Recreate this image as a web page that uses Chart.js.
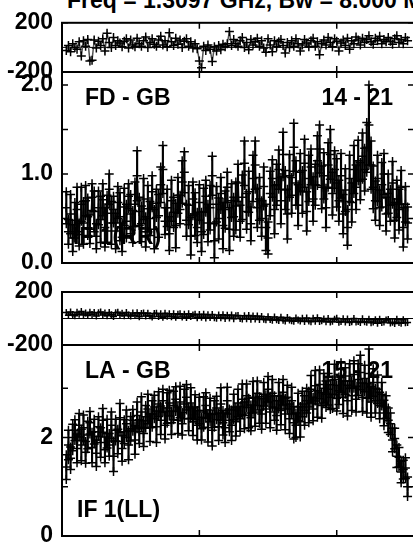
<!DOCTYPE html>
<html>
<head>
<meta charset="utf-8">
<script src="https://cdn.jsdelivr.net/npm/chart.js@4.4.1/dist/chart.umd.min.js"></script>
<style>
  html, body { margin: 0; padding: 0; background: #fff; overflow: hidden; width: 413px; height: 547px; }
  canvas { position: absolute; left: 0; top: 0; }
  #title { position: absolute; left: 67px; top: -13px; font: bold 23px "Liberation Sans", Arial, sans-serif; white-space: nowrap; color: #000; }
</style>
</head>
<body>
<div id="title">Freq = 1.3097 GHz, Bw = 8.000 MHz</div>
<canvas id="phaseRR" width="430" height="560"></canvas>
<canvas id="ampRR" width="430" height="560"></canvas>
<canvas id="phaseLL" width="430" height="560"></canvas>
<canvas id="ampLL" width="430" height="560"></canvas>
<script>
// channel axis
const channels = Array.from({ length: 160 }, (_, i) => i + 2);
const xTicks = [0, 64, 128];

// FD - GB, IF 1 (RR)
const phaseRR = [
  -25, 15, -35, 30, 0, -15, 45, -70, 55, 10,
  65, -110, -105, 60, -5, 50, 15, 70, -30, 115,
  40, 0, 80, 15, 55, 35, 5, 50, 70, -5,
  60, 20, 5, 75, 30, 10, 55, 85, 0, 40,
  70, 25, 10, 60, 90, 20, 55, 5, 120, 45,
  15, 75, 25, 60, 0, 50, 70, 10, 45, -5,
  30, -10, -110, -165, 10, -25, 20, -15, -115, 5,
  -30, 15, -20, 25, 5, 30, 130, 15, 65, 30,
  10, 55, 80, 0, 40, -20, 65, 20, 45, 75,
  10, 55, -5, -40, 70, 20, -35, 55, 5, 45,
  65, 15, -45, 40, 0, 55, 10, 70, 30, -30,
  20, 65, 35, 5, 55, 75, 10, 45, -60, 30,
  60, 20, 80, 40, 5, 70, 50, -30, 35, 60,
  15, 75, -15, 55, 30, 85, 60, 20, 75, 40,
  65, 95, 45, 25, 75, 55, 90, 30, 65, 45,
  80, 50, 25, 70, 95, 40, 65, 30, 80, 55
];
const ampRR = [
  0.62, 0.35, 0.55, 0.28, 0.48, 0.60, 0.32, 0.66, 0.45, 0.70,
  0.52, 0.38, 0.74, 0.58, 0.30, 0.62, 0.49, 0.71, 0.40, 0.56,
  0.83, 0.45, 0.60, 0.36, 0.68, 0.52, 0.29, 0.63, 0.47, 0.75,
  0.55, 0.41, 0.66, 0.98, 0.58, 0.44, 0.72, 0.35, 0.61, 0.50,
  0.80, 0.38, 0.67, 0.53, 0.88, 1.05, 0.47, 0.62, 0.33, 0.70,
  0.57, 0.42, 0.76, 0.60, 0.91, 1.02, 0.48, 0.65, 0.30, 0.72,
  0.55, 0.40, 0.68, 0.35, 0.58, 0.75, 0.45, 0.62, 0.98, 0.25,
  0.66, 0.50, 0.78, 0.42, 0.60, 0.85, 0.38, 0.70, 0.52, 0.64,
  0.90, 0.47, 0.74, 1.12, 0.58, 0.80, 0.44, 0.95, 1.10, 0.62,
  0.72, 0.50, 0.86, 0.40, 0.28, 0.78, 0.95, 0.60, 0.88, 1.05,
  0.70, 1.22, 0.82, 0.55, 0.98, 0.76, 1.30, 0.90, 0.65, 1.02,
  0.80, 1.12, 0.58, 0.95, 1.08, 0.72, 0.88, 1.15, 1.28, 0.85,
  0.98, 0.62, 1.10, 1.22, 0.78, 1.05, 0.90, 0.70, 0.98, 0.55,
  0.82, 0.40, 0.95, 0.68, 1.05, 0.85, 1.15, 0.92, 1.20, 1.05,
  1.30, 1.55, 1.10, 0.85, 0.70, 0.95, 0.62, 0.88, 1.00, 0.55,
  0.78, 0.65, 0.90, 0.48, 0.72, 0.60, 0.85, 0.40, 0.66, 0.45
];
const errRR = [
  .18, .14, .22, .15, .20, .25, .13, .19, .24, .17,
  .21, .16, .15, .23, .14, .19, .26, .18, .22, .20,
  .17, .24, .15, .20, .18, .27, .16, .21, .19, .14,
  .22, .18, .25, .28, .16, .20, .23, .17, .26, .19,
  .18, .22, .16, .24, .20, .27, .15, .21, .19, .23,
  .17, .25, .20, .16, .24, .23, .18, .22, .21, .19,
  .24, .17, .20, .22, .26, .18, .21, .25, .22, .19,
  .20, .23, .18, .26, .21, .17, .24, .19, .22, .27,
  .21, .18, .25, .25, .20, .23, .19, .26, .27, .22,
  .24, .20, .22, .26, .18, .25, .21, .27, .23, .22,
  .26, .25, .22, .28, .24, .20, .27, .25, .23, .21,
  .24, .27, .22, .26, .20, .25, .23, .28, .27, .24,
  .26, .22, .25, .28, .24, .21, .27, .23, .25, .22,
  .24, .20, .26, .22, .27, .25, .23, .21, .26, .24,
  .28, .45, .27, .24, .22, .26, .20, .25, .23, .19,
  .22, .18, .24, .20, .21, .23, .19, .22, .20, .18
];

// LA - GB, IF 1 (LL)
const phaseLL = [
  45, 25, 50, 30, 20, 48, 32, 52, 26, 42,
  22, 48, 30, 46, 18, 44, 50, 26, 42, 20,
  46, 28, 16, 44, 48, 24, 40, 20, 45, 26,
  18, 42, 22, 44, 14, 38, 42, 18, 40, 20,
  12, 38, 40, 16, 36, 10, 40, 17, 36, 14,
  35, 10, 33, 36, 12, 32, 8, 35, 15, 27,
  32, 5, 30, 10, 33, 4, 28, 8, 30, 6,
  2, 27, 5, 29, 0, 24, 3, 26, -2, 21,
  23, 0, -4, 20, -2, 22, -6, 18, -4, 19,
  -8, 16, -6, -10, 14, -8, -14, 12, -10, -15,
  10, -13, -18, 8, -12, -17, -21, 3, -11, -19,
  1, -22, 4, -18, -24, 2, -20, 5, -23, -17,
  -4, -25, 0, -27, -20, -6, 2, -28, -22, -2,
  -26, -4, -30, -24, 0, -27, -23, -31, -2, -25,
  -29, -5, -33, -26, -10, -35, -6, -30, -27, -12,
  -8, -34, -29, -37, -5, -31, -36, -10, -33, -30
];
const ampLL = [
  1.40, 1.85, 1.58, 2.00, 2.15, 1.78, 2.25, 1.85, 2.20, 1.70,
  2.05, 2.30, 1.80, 2.12, 1.68, 2.22, 1.90, 2.35, 1.75, 2.08,
  1.85, 2.25, 1.62, 2.15, 1.92, 2.40, 1.78, 2.12, 2.28, 1.85,
  2.18, 2.35, 1.95, 2.45, 2.12, 2.52, 2.08, 2.42, 2.58, 2.20,
  2.48, 2.62, 2.22, 2.68, 2.35, 2.75, 2.25, 2.60, 2.70, 2.30,
  2.65, 2.78, 2.35, 2.72, 2.28, 2.68, 2.82, 2.38, 2.70, 2.32,
  2.62, 2.25, 2.55, 2.18, 2.52, 2.65, 2.20, 2.56, 2.15, 2.48,
  2.60, 2.22, 2.68, 2.30, 2.20, 2.75, 2.35, 2.25, 2.62, 2.32,
  2.70, 2.38, 2.78, 2.45, 2.85, 2.50, 2.40, 2.82, 2.52, 2.90,
  2.56, 2.48, 2.88, 2.58, 2.98, 2.52, 2.90, 2.60, 2.45, 2.85,
  2.55, 2.92, 2.48, 2.82, 2.38, 2.75, 2.30, 2.25, 2.62, 2.32,
  2.68, 2.55, 2.75, 2.62, 2.98, 2.58, 3.05, 2.68, 3.08, 2.65,
  3.00, 2.88, 2.98, 2.82, 2.88, 3.18, 2.80, 2.95, 3.22, 2.82,
  3.15, 2.75, 3.25, 2.85, 3.28, 2.78, 3.18, 3.32, 2.82, 3.20,
  2.80, 3.30, 2.72, 3.12, 2.75, 2.98, 2.65, 2.88, 2.50, 2.62,
  2.35, 2.28, 1.95, 1.98, 1.62, 1.60, 1.30, 1.35, 1.38, 1.00
];
const errLL = [
  .25, .30, .23, .27, .21, .29, .24, .32, .26, .22,
  .28, .23, .31, .25, .27, .20, .30, .24, .26, .29,
  .23, .27, .31, .22, .25, .29, .26, .24, .28, .30,
  .25, .22, .29, .27, .24, .31, .26, .23, .30, .28,
  .27, .24, .32, .25, .29, .23, .28, .31, .26, .24,
  .29, .25, .27, .32, .23, .30, .26, .24, .31, .28,
  .25, .30, .27, .23, .31, .26, .29, .24, .32, .27,
  .24, .28, .33, .25, .30, .27, .23, .31, .26, .29,
  .28, .25, .31, .27, .24, .30, .26, .32, .29, .25,
  .27, .31, .24, .29, .26, .32, .28, .25, .30, .27,
  .29, .26, .32, .24, .30, .27, .33, .25, .28, .31,
  .26, .30, .25, .32, .28, .24, .31, .27, .29, .26,
  .30, .27, .32, .25, .29, .31, .26, .28, .30, .33,
  .27, .31, .25, .30, .28, .26, .32, .35, .29, .27,
  .30, .50, .31, .28, .25, .29, .27, .24, .26, .23,
  .25, .22, .24, .21, .23, .20, .22, .19, .21, .20
];

// y ticks per panel
const phaseTicks = [-200, 200];
const ampRRTicks = [0, 0.5, 1, 1.5, 2];
const ampLLTicks = [0, 1, 2, 3];

const font = "'Liberation Sans', Arial, sans-serif";

const framePlugin = {
  id: 'frame',
  beforeDatasetsDraw(chart, args, opts) {
    const ctx = chart.ctx;
    ctx.save();
    ctx.fillStyle = '#000';
    ctx.font = 'bold 23px ' + font;
    ctx.textBaseline = 'alphabetic';
    (opts.texts || []).forEach(t => {
      ctx.textAlign = t.align || 'left';
      ctx.fillText(t.text, t.x, t.y);
    });
    const a = chart.chartArea;
    if (opts.zeroLine) {
      const y0 = chart.scales.y.getPixelForValue(0);
      ctx.strokeStyle = '#000';
      ctx.lineWidth = 1;
      ctx.beginPath();
      ctx.moveTo(a.left, y0);
      ctx.lineTo(a.right, y0);
      ctx.stroke();
    }
    ctx.restore();
  },
  afterDatasetsDraw(chart) {
    const ctx = chart.ctx;
    const a = chart.chartArea;
    const xs = chart.scales.x, ys = chart.scales.y;
    ctx.save();
    ctx.strokeStyle = '#000';
    ctx.lineWidth = 2;
    ctx.strokeRect(a.left, a.top, a.right - a.left, a.bottom - a.top);
    ctx.lineWidth = 1.5;
    ctx.beginPath();
    ys.ticks.forEach(t => {
      const y = ys.getPixelForValue(t.value);
      ctx.moveTo(a.left, y); ctx.lineTo(a.left + 6, y);
      ctx.moveTo(a.right - 6, y); ctx.lineTo(a.right, y);
    });
    xTicks.forEach(v => {
      const x = xs.getPixelForValue(v);
      ctx.moveTo(x, a.top); ctx.lineTo(x, a.top + 6);
      ctx.moveTo(x, a.bottom - 6); ctx.lineTo(x, a.bottom);
    });
    ctx.stroke();
    ctx.restore();
  }
};

function makePanel(id, cfg) {
  const datasets = [];
  if (cfg.err) {
    datasets.push({
      type: 'bar',
      data: channels.map((c, i) => ({ x: c, y: [cfg.values[i] - cfg.err[i], cfg.values[i] + cfg.err[i]] })),
      backgroundColor: '#000',
      borderWidth: 0,
      barThickness: 1.5
    });
    ['hi', 'lo'].forEach(side => {
      datasets.push({
        type: 'line',
        showLine: false,
        data: channels.map((c, i) => ({ x: c, y: side === 'hi' ? cfg.values[i] + cfg.err[i] : cfg.values[i] - cfg.err[i] })),
        pointStyle: 'cross',
        pointRadius: 4.5,
        pointBorderWidth: 1.5,
        pointBorderColor: '#000'
      });
    });
  }
  datasets.push({
    type: 'line',
    data: channels.map((c, i) => ({ x: c, y: cfg.values[i] })),
    borderColor: '#555',
    borderWidth: 1.5,
    tension: 0,
    pointStyle: 'cross',
    pointRadius: cfg.radius,
    pointBorderWidth: 1.5,
    pointBorderColor: '#000'
  });

  return new Chart(document.getElementById(id), {
    type: 'line',
    data: { datasets },
    plugins: [framePlugin],
    options: {
      responsive: false,
      animation: false,
      events: [],
      layout: { padding: { top: cfg.top, bottom: 560 - cfg.bottom, left: 0, right: 430 - 414 } },
      scales: {
        x: { type: 'linear', min: 0, max: 164, offset: false, display: false },
        y: {
          type: 'linear',
          min: cfg.min,
          max: cfg.max,
          afterFit(s) { s.width = 62; },
          afterBuildTicks(s) { s.ticks = cfg.ticks.map(v => ({ value: v })); },
          border: { display: false },
          grid: { display: false, drawTicks: false },
          ticks: {
            autoSkip: false,
            padding: 9,
            color: '#000',
            font: { family: font, weight: 'bold', size: 23 },
            callback: cfg.label
          }
        }
      },
      plugins: {
        legend: { display: false },
        tooltip: { enabled: false },
        frame: { texts: cfg.texts || [], zeroLine: cfg.zeroLine }
      }
    }
  });
}

makePanel('phaseRR', {
  top: 19, bottom: 72, min: -200, max: 200, ticks: phaseTicks,
  values: phaseRR, radius: 4.5, zeroLine: true,
  label: v => String(v)
});
makePanel('ampRR', {
  top: 72, bottom: 263, min: 0, max: 2.146, ticks: ampRRTicks,
  values: ampRR, err: errRR, radius: 4.5,
  label: v => (v % 1 === 0 ? v.toFixed(1) : ''),
  texts: [
    { text: 'FD - GB', x: 85, y: 105 },
    { text: '14 - 21', x: 393, y: 105, align: 'right' },
    { text: 'IF 1(RR)', x: 73, y: 244 }
  ]
});
makePanel('phaseLL', {
  top: 292, bottom: 345, min: -200, max: 200, ticks: phaseTicks,
  values: phaseLL, radius: 3.5, zeroLine: true,
  label: v => String(v)
});
makePanel('ampLL', {
  top: 345, bottom: 536, min: 0, max: 3.88, ticks: ampLLTicks,
  values: ampLL, err: errLL, radius: 4.5,
  label: v => (v % 2 === 0 ? String(v) : ''),
  texts: [
    { text: 'LA - GB', x: 85, y: 378 },
    { text: '15 - 21', x: 393, y: 378, align: 'right' },
    { text: 'IF 1(LL)', x: 77, y: 517 }
  ]
});
</script>
</body>
</html>
